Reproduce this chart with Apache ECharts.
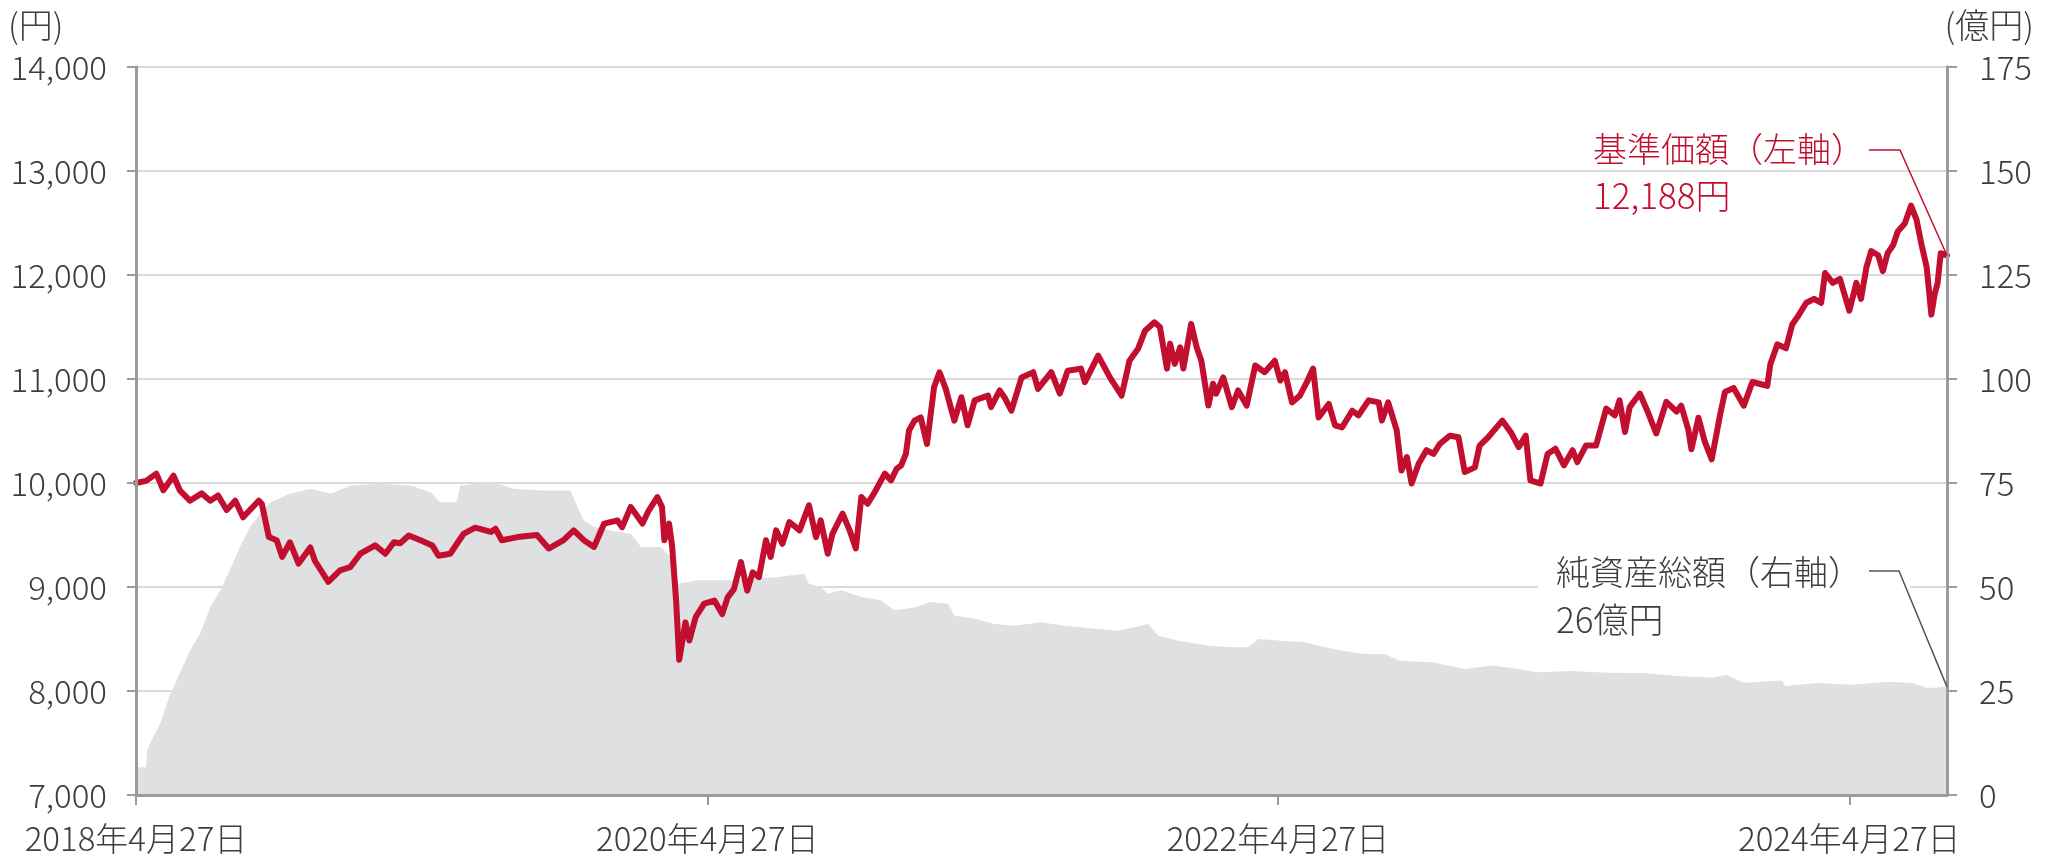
<!DOCTYPE html>
<html>
<head>
<meta charset="utf-8">
<script src="https://cdn.jsdelivr.net/npm/echarts@6/dist/echarts.min.js"></script>
<style>
html,body{margin:0;padding:0;background:#fff;}
#chart{width:2048px;height:867px;}
</style>
</head>
<body>
<div id="chart"></div>
<script>
// ---- data ----
const priceDates = [
'2018-04-27','2018-05-10','2018-05-23','2018-06-01','2018-06-14','2018-06-22','2018-07-05','2018-07-20','2018-07-31','2018-08-10',
'2018-08-21','2018-09-01','2018-09-11','2018-10-01','2018-10-05','2018-10-14','2018-10-24','2018-10-31','2018-11-10','2018-11-21',
'2018-12-06','2018-12-12','2018-12-29','2019-01-13','2019-01-26','2019-02-08','2019-02-27','2019-03-12','2019-03-23','2019-03-31',
'2019-04-11','2019-04-26','2019-05-11','2019-05-19','2019-06-03','2019-06-20','2019-07-05','2019-07-25','2019-07-31','2019-08-08',
'2019-08-28','2019-09-22','2019-10-07','2019-10-26','2019-11-08','2019-11-21','2019-12-04','2019-12-17','2020-01-03','2020-01-09',
'2020-01-20','2020-02-04','2020-02-12','2020-02-23','2020-02-29','2020-03-03','2020-03-09','2020-03-13','2020-03-18','2020-03-22',
'2020-03-30','2020-04-04','2020-04-12','2020-04-23','2020-05-06','2020-05-16','2020-05-23','2020-05-31','2020-06-09','2020-06-17',
'2020-06-24','2020-07-02','2020-07-11','2020-07-17','2020-07-24','2020-08-01','2020-08-10','2020-08-23','2020-09-04','2020-09-13',
'2020-09-19','2020-09-28','2020-10-04','2020-10-17','2020-10-26','2020-11-03','2020-11-10','2020-11-18','2020-11-27','2020-12-10',
'2020-12-18','2020-12-25','2020-12-31','2021-01-06','2021-01-10','2021-01-17','2021-01-25','2021-02-02','2021-02-11','2021-02-18',
'2021-02-26','2021-03-09','2021-03-18','2021-03-26','2021-04-04','2021-04-21','2021-04-25','2021-05-06','2021-05-12','2021-05-21',
'2021-06-03','2021-06-18','2021-06-24','2021-07-11','2021-07-22','2021-08-01','2021-08-18','2021-08-23','2021-09-09','2021-09-24',
'2021-10-09','2021-10-19','2021-10-30','2021-11-08','2021-11-20','2021-11-27','2021-12-06','2021-12-10','2021-12-16','2021-12-23',
'2021-12-27','2022-01-06','2022-01-13','2022-01-19','2022-01-28','2022-02-03','2022-02-07','2022-02-16','2022-02-27','2022-03-07',
'2022-03-18','2022-03-29','2022-04-10','2022-04-23','2022-04-30','2022-05-06','2022-05-15','2022-05-25','2022-06-03','2022-06-11',
'2022-06-18','2022-07-01','2022-07-09','2022-07-18','2022-07-31','2022-08-08','2022-08-21','2022-09-03','2022-09-07','2022-09-15',
'2022-09-26','2022-10-02','2022-10-09','2022-10-15','2022-10-24','2022-11-03','2022-11-12','2022-11-20','2022-12-03','2022-12-14',
'2022-12-22','2023-01-04','2023-01-10','2023-01-21','2023-02-08','2023-02-20','2023-03-01','2023-03-10','2023-03-16','2023-03-29',
'2023-04-07','2023-04-17','2023-04-28','2023-05-09','2023-05-15','2023-05-26','2023-06-08','2023-06-21','2023-07-02','2023-07-08',
'2023-07-15','2023-07-21','2023-08-03','2023-08-12','2023-08-24','2023-09-06','2023-09-19','2023-09-25','2023-10-04','2023-10-08',
'2023-10-17','2023-10-25','2023-11-03','2023-11-14','2023-11-20','2023-12-01','2023-12-14','2023-12-25','2024-01-04','2024-01-13',
'2024-01-17','2024-01-26','2024-02-06','2024-02-14','2024-02-21','2024-03-03','2024-03-13','2024-03-22','2024-03-27','2024-04-06',
'2024-04-15','2024-04-21','2024-04-27','2024-05-06','2024-05-12','2024-05-19','2024-05-25','2024-06-03','2024-06-09','2024-06-15',
'2024-06-22','2024-06-28','2024-07-07','2024-07-15','2024-07-22','2024-07-28','2024-08-04','2024-08-10','2024-08-14','2024-08-18',
'2024-08-22','2024-08-30'
];
const priceValues = [
10000,10020,10090,9930,10070,9930,9830,9900,9830,9880,
9740,9830,9670,9830,9800,9480,9450,9290,9430,9225,
9380,9250,9050,9160,9190,9320,9400,9320,9430,9420,
9495,9450,9400,9300,9320,9510,9570,9530,9560,9450,
9480,9500,9370,9450,9545,9450,9385,9610,9640,9575,
9770,9610,9735,9865,9770,9450,9610,9385,8870,8300,
8660,8485,8710,8840,8870,8740,8900,8980,9240,8965,
9140,9095,9450,9290,9545,9415,9625,9545,9785,9480,
9640,9320,9510,9705,9545,9370,9865,9800,9910,10090,
10025,10135,10170,10280,10505,10600,10630,10375,10920,11065,
10905,10600,10825,10555,10795,10840,10730,10890,10825,10695,
11015,11065,10905,11065,10860,11080,11100,10970,11225,11015,
10840,11175,11290,11465,11545,11500,11100,11340,11145,11305,
11100,11530,11305,11175,10745,10955,10860,11015,10730,10890,
10745,11130,11065,11175,10985,11065,10775,10840,10970,11100,
10630,10760,10555,10535,10695,10650,10795,10775,10600,10775,
10505,10120,10250,9995,10185,10315,10280,10375,10455,10440,
10105,10150,10360,10440,10600,10475,10345,10455,10025,9995,
10280,10330,10170,10315,10200,10360,10360,10715,10650,10795,
10490,10730,10860,10705,10476,10781,10686,10743,10514,10324,
10628,10400,10228,10667,10876,10914,10743,10971,10952,10933,
11143,11333,11295,11524,11600,11733,11771,11733,12019,11924,
11962,11810,11657,11924,11771,12076,12229,12190,12038,12210,
12286,12419,12495,12667,12533,12305,12076,11619,11810,11924,
12210,12188
];
const assetDates = [
'2018-04-27','2018-05-10','2018-05-11','2018-05-15','2018-05-28','2018-06-10','2018-06-22','2018-07-05','2018-07-18','2018-07-31',
'2018-08-13','2018-08-25','2018-09-07','2018-09-20','2018-10-03','2018-10-16','2018-11-10','2018-12-06','2019-01-01','2019-01-26',
'2019-03-06','2019-04-13','2019-05-09','2019-05-21','2019-06-11','2019-06-16','2019-07-28','2019-08-23','2019-09-27','2019-11-04',
'2019-11-13','2019-11-21','2019-12-04','2019-12-25','2020-01-20','2020-02-02','2020-02-27','2020-03-11','2020-03-20','2020-04-15',
'2020-05-31','2020-06-26','2020-07-26','2020-08-29','2020-09-04','2020-09-19','2020-09-28','2020-10-15','2020-11-10','2020-12-05',
'2020-12-22','2021-01-17','2021-02-07','2021-03-01','2021-03-09','2021-04-03','2021-04-29','2021-05-25','2021-06-28','2021-07-28',
'2021-09-09','2021-10-05','2021-11-12','2021-11-25','2021-12-21','2022-01-28','2022-02-27','2022-03-20','2022-04-02','2022-05-02',
'2022-05-31','2022-06-26','2022-07-18','2022-08-16','2022-09-11','2022-09-29','2022-11-10','2022-12-22','2023-01-26','2023-03-01',
'2023-03-24','2023-05-08','2023-06-22','2023-08-06','2023-09-20','2023-11-04','2023-11-22','2023-12-13','2024-02-01','2024-02-05',
'2024-03-17','2024-05-01','2024-06-15','2024-07-16','2024-08-06','2024-08-30'
];
const assetValues = [
6.7,6.7,10.5,12.4,17.2,24.4,29.2,34.7,38.8,45.1,
49.2,54.0,59.6,64.4,67.6,70.4,72.4,73.6,72.4,74.4,
74.8,74.4,72.8,70.4,70.4,74.4,75.2,73.6,73.2,73.2,
69.2,66.0,64.4,63.6,62.8,59.6,59.6,57.2,50.8,51.6,
51.6,52.0,52.4,53.2,50.8,50.0,48.4,49.2,47.6,46.8,
44.4,45.1,46.4,46.0,43.1,42.4,41.1,40.7,41.5,40.7,
39.9,39.5,41.1,38.3,37.1,35.9,35.5,35.5,37.5,37.1,
36.7,35.5,34.7,33.9,33.9,32.3,31.9,30.3,31.1,30.3,
29.5,29.8,29.4,29.3,28.6,28.2,28.9,27.0,27.5,26.2,
26.9,26.5,27.2,26.9,25.7,26.0
];
const xTickDates = ['2018-04-27','2020-04-27','2022-04-27','2024-04-27'];
const leftAxisTicks = [7000, 8000, 9000, 10000, 11000, 12000, 13000, 14000];
const rightAxisTicks = [0, 25, 50, 75, 100, 125, 150, 175];
const leftUnit = '(円)';
const rightUnit = '(億円)';
const priceLabel = ['基準価額（左軸）', '12,188円'];
const assetLabel = ['純資産総額（右軸）', '26億円'];

// ---- helpers ----
function ts(s) { const p = s.split('-').map(Number); return new Date(p[0], p[1] - 1, p[2]).getTime(); }
const FONT = '"Noto Sans CJK JP", "Noto Sans", sans-serif';
const TXT = '#3d3d3d';
const AX = '#9b9b9d';
const RED = '#c20e2f';

const chart = echarts.init(document.getElementById('chart'), null, { renderer: 'canvas' });
const xTicks = xTickDates.map(ts);
const priceData = priceDates.map((d, i) => [ts(d), priceValues[i]]);
const assetData = assetDates.map((d, i) => [ts(d), assetValues[i]]);

const option = {
  animation: false,
  backgroundColor: '#ffffff',
  grid: { left: 136, right: 101, top: 67, bottom: 72, outerBoundsMode: 'none', containLabel: false },
  xAxis: {
    type: 'value',
    min: ts(priceDates[0]),
    max: ts(priceDates[priceDates.length - 1]),
    z: 3,
    axisLine: { show: true, lineStyle: { color: AX, width: 3 } },
    axisTick: { show: true, length: 10, customValues: xTicks, lineStyle: { color: AX, width: 2 } },
    axisLabel: {
      customValues: xTicks,
      margin: 27,
      fontSize: 33, fontWeight: 300, color: TXT, fontFamily: FONT,
      formatter: function (v) { const d = new Date(v); return d.getFullYear() + '年' + (d.getMonth() + 1) + '月' + d.getDate() + '日'; }
    },
    splitLine: { show: false }
  },
  yAxis: [
    {
      type: 'value', position: 'left',
      min: leftAxisTicks[0], max: leftAxisTicks[leftAxisTicks.length - 1], interval: leftAxisTicks[1] - leftAxisTicks[0],
      z: 3,
      axisLine: { show: true, lineStyle: { color: AX, width: 3 } },
      axisTick: { show: true, length: 9, lineStyle: { color: AX, width: 2 } },
      axisLabel: { margin: 29, fontSize: 33, fontWeight: 300, color: TXT, fontFamily: FONT, formatter: v => v.toLocaleString('en-US') },
      splitLine: { show: false }
    },
    {
      type: 'value', position: 'right',
      min: rightAxisTicks[0], max: rightAxisTicks[rightAxisTicks.length - 1], interval: rightAxisTicks[1] - rightAxisTicks[0],
      axisLine: { show: true, lineStyle: { color: AX, width: 3 } },
      axisTick: { show: true, length: 10, lineStyle: { color: AX, width: 2 } },
      axisLabel: { margin: 32, fontSize: 33, fontWeight: 300, color: TXT, fontFamily: FONT },
      splitLine: { show: true, lineStyle: { color: '#dadada', width: 2 } }
    },
    {
      type: 'value', position: 'right',
      min: rightAxisTicks[0], max: rightAxisTicks[rightAxisTicks.length - 1], interval: rightAxisTicks[1] - rightAxisTicks[0],
      z: 3,
      axisLine: { show: true, lineStyle: { color: AX, width: 3 } },
      axisTick: { show: false }, axisLabel: { show: false }, splitLine: { show: false }
    }
  ],
  series: [
    {
      name: '純資産総額', type: 'line', yAxisIndex: 1, data: assetData,
      symbol: 'none', silent: true, z: 1,
      lineStyle: { width: 0 },
      areaStyle: { color: '#dfe0e2', opacity: 1 }
    },
    {
      name: '基準価額', type: 'line', yAxisIndex: 0, data: priceData,
      symbol: 'none', silent: true, z: 2,
      lineStyle: { color: RED, width: 6, join: 'round', cap: 'round' }
    }
  ]
};
chart.setOption(option);

// ---- annotations anchored on the last data points ----
const lastT = ts(priceDates[priceDates.length - 1]);
const pEnd = chart.convertToPixel({ xAxisIndex: 0, yAxisIndex: 0 }, [lastT, priceValues[priceValues.length - 1]]);
const aEnd = chart.convertToPixel({ xAxisIndex: 0, yAxisIndex: 1 }, [ts(assetDates[assetDates.length - 1]), assetValues[assetValues.length - 1]]);
const plotRight = 2048 - 101;

function txt(text, x, y, color, align, size) {
  return { type: 'text', x: x, y: y, z: 20, silent: true,
    style: { text: text, fill: color, fontSize: size || 33, fontWeight: 300, fontFamily: FONT, align: align || 'left', verticalAlign: 'middle' } };
}

chart.setOption({
  graphic: [
    txt(leftUnit, 8, 25, TXT, 'left', 34),
    txt(rightUnit, 2034, 25, TXT, 'right', 34),
    { type: 'rect', z: 15, silent: true, shape: { x: plotRight - 409, y: 548, width: 372, height: 95 }, style: { fill: '#ffffff' } },
    txt(priceLabel[0], plotRight - 354, 149, RED, 'left', 34),
    txt(priceLabel[1], plotRight - 354, 196, RED, 'left', 35),
    { type: 'polyline', z: 21, silent: true,
      shape: { points: [[plotRight - 78, 150], [plotRight - 47, 150], [pEnd[0], pEnd[1]]] },
      style: { stroke: RED, lineWidth: 1.5, fill: null } },
    txt(assetLabel[0], plotRight - 391, 572, TXT, 'left', 34),
    txt(assetLabel[1], plotRight - 391, 620, TXT, 'left', 35),
    { type: 'polyline', z: 21, silent: true,
      shape: { points: [[plotRight - 78, 571], [plotRight - 48, 571], [aEnd[0], aEnd[1]]] },
      style: { stroke: '#555555', lineWidth: 1.5, fill: null } }
  ]
});
</script>
</body>
</html>
